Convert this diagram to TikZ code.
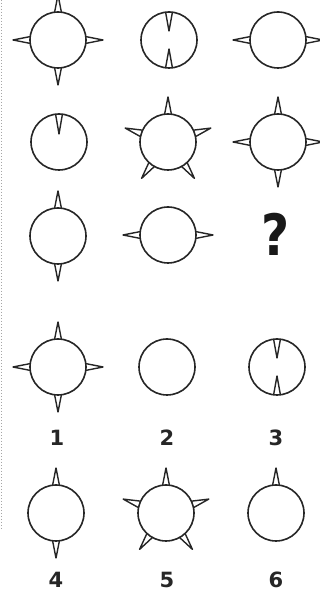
\documentclass[tikz,border=0pt]{standalone}
\usepackage{fontspec}
\newfontfamily\digitfont{DejaVu Sans}
\usetikzlibrary{calc}
\tikzset{
  ring/.style={circle,draw=black!85,line width=1.6pt,minimum size=56pt,inner sep=0pt},
  spike/.style={draw=black!85,line width=1.4pt,line join=round},
  lbl/.style={font=\digitfont\bfseries\fontsize{21}{21}\selectfont,inner sep=0pt,text=black!85},
}
% #1 node, #2 angle, #3 tip radius
\newcommand\spk[3]{\draw[spike] ($(#1.center)+({#2-7}:28)$) -- ($(#1.center)+(#2:#3)$) -- ($(#1.center)+({#2+7}:28)$);}
\newcommand\spo[2]{\spk{#1}{#2}{45}}
\newcommand\spi[2]{\spk{#1}{#2}{9}}
\begin{document}
\begin{tikzpicture}[x=1pt,y=1pt]
\useasboundingbox (0,0) rectangle (320,593);
\fill[white] (0,0) rectangle (320,593);
\draw[black!35,line width=1pt,dotted] (1,593) -- (1,63);
% row 1
\node[ring] (A) at (58,553) {};
\foreach \a in {0,90,180,270} {\spo{A}{\a}}
\node[ring] (B) at (169,553) {};
\spi{B}{90}\spi{B}{270}
\node[ring] (C) at (278,553) {};
\spo{C}{0}\spo{C}{180}
% row 2
\node[ring] (D) at (59,451) {};
\spk{D}{90}{8}
\node[ring] (E) at (168,451) {};
\foreach \a in {18,90,162,234,306} {\spo{E}{\a}}
\node[ring] (F) at (278,451) {};
\foreach \a in {0,90,180,270} {\spo{F}{\a}}
% row 3
\node[ring] (G) at (58,357) {};
\spo{G}{90}\spo{G}{270}
\node[ring] (H) at (168,358) {};
\spo{H}{0}\spo{H}{180}
\node[inner sep=0pt,text=black!90] (Q) at (276,359) {\digitfont\bfseries\fontsize{57}{57}\selectfont\scalebox{0.85}[1]{?}};
% options row 1
\node[ring] (O1) at (58,226) {};
\foreach \a in {0,90,180,270} {\spo{O1}{\a}}
\node[ring] (O2) at (167,226) {};
\node[ring] (O3) at (277,226) {};
\spi{O3}{90}\spi{O3}{270}
\node[lbl] (L1) at (57,155) {1};
\node[lbl] (L2) at (167,155) {2};
\node[lbl] (L3) at (276,155) {3};
% options row 2
\node[ring] (O4) at (56,80) {};
\spo{O4}{90}\spo{O4}{270}
\node[ring] (O5) at (166,80) {};
\foreach \a in {18,90,162,234,306} {\spo{O5}{\a}}
\node[ring] (O6) at (276,80) {};
\spo{O6}{90}
\node[lbl] (L4) at (56,13) {4};
\node[lbl] (L5) at (167,13) {5};
\node[lbl] (L6) at (276,13) {6};
\end{tikzpicture}
\end{document}
